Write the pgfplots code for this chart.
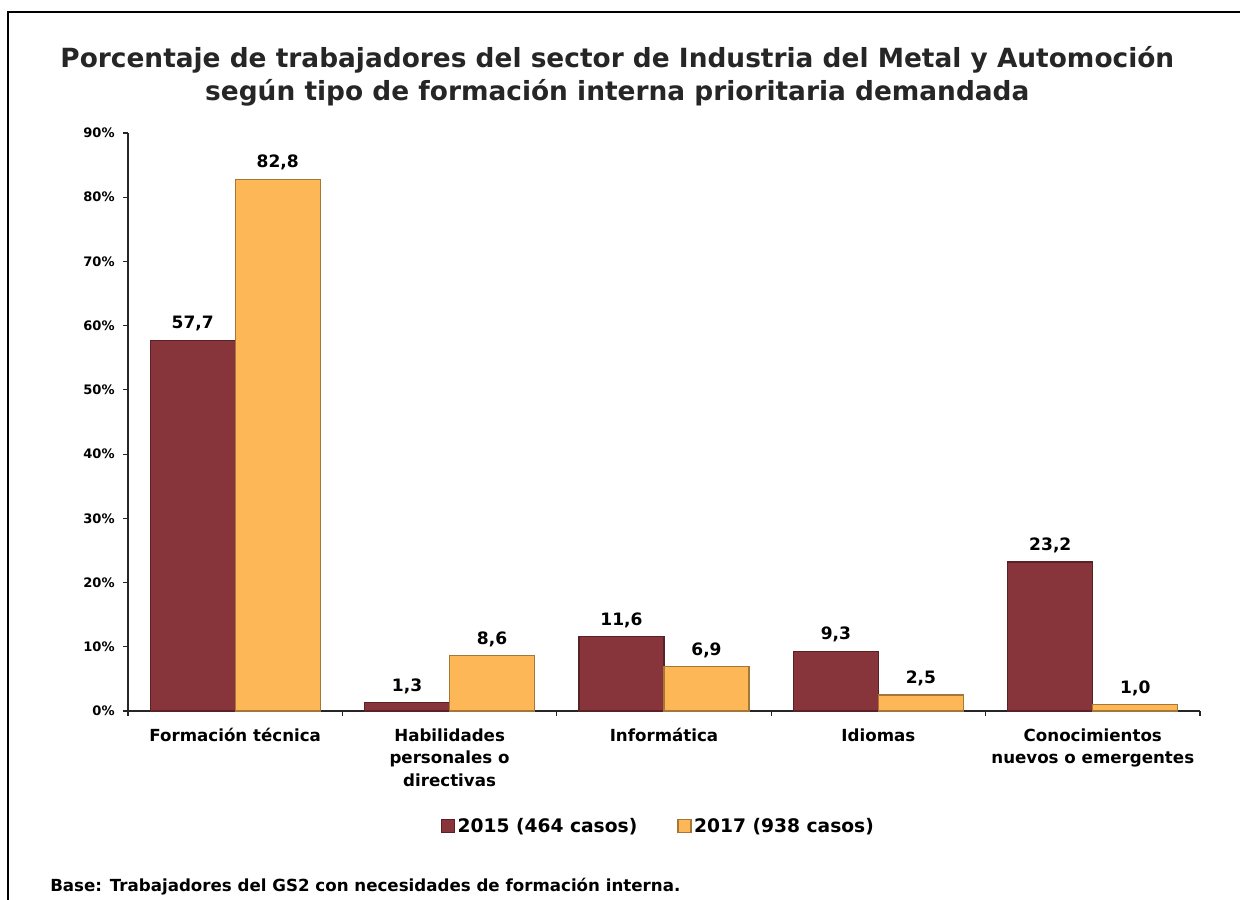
\documentclass[border=0pt]{standalone}
\usepackage{fontspec}
\setmainfont{DejaVu Sans}
\usepackage{pgfplots}
\pgfplotsset{compat=1.18}
\definecolor{cA}{HTML}{87343B}
\definecolor{cB}{HTML}{FDB756}
\definecolor{titlec}{HTML}{262626}
\begin{document}
\begin{tikzpicture}
\useasboundingbox (0,0) rectangle (930pt,-675pt);
\draw[line width=0.9pt] (6pt,-700pt) -- (6pt,-9pt) -- (940pt,-9pt);
\node[anchor=base, font=\bfseries\fontsize{19.8}{24}\selectfont, text=titlec, inner sep=0pt] at (463pt,-50.25pt) {Porcentaje de trabajadores del sector de Industria del Metal y Automoción};
\node[anchor=base, font=\bfseries\fontsize{19.8}{24}\selectfont, text=titlec, inner sep=0pt] at (463pt,-75.5pt) {según tipo de formación interna prioritaria demandada};
\begin{axis}[
  at={(96pt,-533.25pt)}, anchor=south west,
  scale only axis, width=804pt, height=433.5pt,
  xmin=-0.5, xmax=4.5, ymin=0, ymax=90,
  ybar=0pt, bar width=63.75pt,
  axis x line*=bottom, axis y line*=left,
  axis line style={draw=black!85, line width=0.8pt},
  tick align=outside, major tick length=3.5pt,
  tick style={draw=black!85, line width=0.8pt},
  /pgf/number format/assume math mode=true,
  ytick={0,10,...,90},
  yticklabel={\pgfmathprintnumber{\tick}\%},
  yticklabel style={font=\bfseries\fontsize{9.8}{11}\selectfont, xshift=-3pt},
  xtick={0,1,2,3,4},
  xticklabels={{Formación técnica},{Habilidades\\personales o\\directivas},{Informática},{Idiomas},{Conocimientos\\nuevos o emergentes}},
  xticklabel style={font=\bfseries\fontsize{12.5}{17}\selectfont, align=center, yshift=-6pt},
  xtick style={draw=none},
  extra x ticks={-0.5,0.5,1.5,2.5,3.5,4.5},
  extra x tick labels={},
  extra x tick style={xtick style={draw=black!85}},
  nodes near coords={\pgfmathprintnumber[fixed,fixed zerofill,precision=1,use comma]{\pgfplotspointmeta}},
  every node near coord/.append style={font=\bfseries\fontsize{12.8}{14}\selectfont, black, yshift=3pt},
  legend style={at={(0.495,-0.199)}, anchor=center, draw=none, legend columns=2,
     font=\bfseries\fontsize{14}{16}\selectfont,
     /tikz/every even column/.append style={column sep=28pt}},
  legend image code/.code={\draw[#1] (0pt,-4.75pt) rectangle (9.75pt,4.75pt);},
  clip=false,
]
\addplot[fill=cA, draw=cA!65!black, line width=0.9pt] coordinates {(0,57.7) (1,1.3) (2,11.6) (3,9.3) (4,23.2)};
\addplot[fill=cB, draw=cB!65!black, line width=0.9pt] coordinates {(0,82.8) (1,8.6) (2,6.9) (3,2.5) (4,1.0)};
\legend{2015 (464 casos),2017 (938 casos)}
\end{axis}
\node[anchor=base west, font=\bfseries\fontsize{12.5}{14}\selectfont, inner sep=0pt] at (37.5pt,-668.25pt) {Base: Trabajadores del GS2 con necesidades de formación interna.};
\end{tikzpicture}
\end{document}
